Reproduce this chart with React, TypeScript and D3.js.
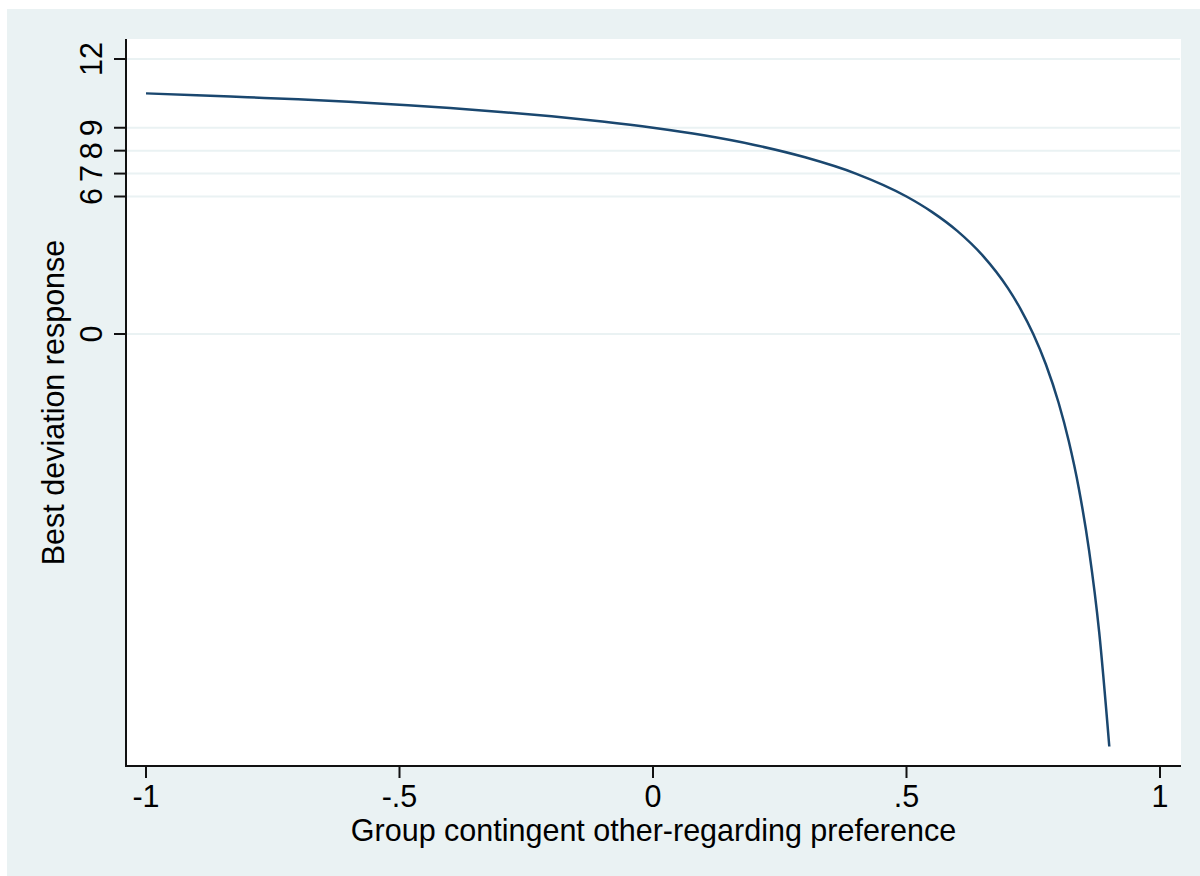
import React from "react";
import * as d3 from "d3";

const xValues = [-1, -0.9, -0.8, -0.7, -0.6, -0.5, -0.4, -0.3, -0.2, -0.1, 0, 0.1, 0.2, 0.3, 0.4, 0.5, 0.55, 0.6, 0.65, 0.7, 0.725, 0.75, 0.775, 0.8, 0.82, 0.84, 0.86, 0.88, 0.9];
const yValues = [10.5, 10.42, 10.33, 10.24, 10.13, 10.0, 9.86, 9.69, 9.5, 9.27, 9.0, 8.67, 8.25, 7.71, 7.0, 6.0, 5.33, 4.5, 3.43, 2.0, 1.09, 0.0, -1.33, -3.0, -4.67, -6.75, -9.43, -13.0, -18.0];

const xTicks = [-1, -0.5, 0, 0.5, 1];
const xTickLabels = ["-1", "-.5", "0", ".5", "1"];
const yTicks = [0, 6, 7, 8, 9, 12];
const yTickLabels = ["0", "6", "7", "8", "9", "12"];

const xTitle = "Group contingent other-regarding preference";
const yTitle = "Best deviation response";

export default function App() {
  const W = 1200;
  const H = 876;
  const plot = { left: 126, top: 39, right: 1181, bottom: 766 };
  const x = d3.scaleLinear().domain([-1, 1]).range([146, 1160]);
  const y = d3.scaleLinear().domain([0, 12]).range([334, 59]);
  const pts: [number, number][] = xValues.map((v, i) => [v, yValues[i]]);
  const line = d3
    .line<[number, number]>()
    .x((d) => x(d[0]))
    .y((d) => y(d[1]))
    .curve(d3.curveMonotoneX);
  const font = "'Liberation Sans', Arial, Helvetica, sans-serif";
  const fs = 30.5;
  return (
    <div style={{ position: "absolute", left: 0, top: 0 }}>
      <svg width={W} height={H} style={{ display: "block" }} fontFamily={font}>
        <rect x={0} y={0} width={W} height={H} fill="#ffffff" />
        <rect x={7} y={9} width={W - 7} height={H - 9} fill="#EAF2F3" />
        <rect
          x={plot.left}
          y={plot.top}
          width={plot.right - plot.left}
          height={plot.bottom - plot.top}
          fill="#ffffff"
        />
        {yTicks.map((t) => (
          <line
            key={"g" + t}
            x1={plot.left}
            x2={plot.right - 1}
            y1={y(t)}
            y2={y(t)}
            stroke="#EAF2F3"
            strokeWidth={2}
          />
        ))}
        <path d={line(pts) || ""} fill="none" stroke="#1a476f" strokeWidth={2.5} />
        <line x1={plot.left} x2={plot.left} y1={plot.top} y2={plot.bottom + 1} stroke="#111" strokeWidth={2} />
        <line x1={plot.left} x2={plot.right} y1={plot.bottom} y2={plot.bottom} stroke="#111" strokeWidth={2} />
        {yTicks.map((t, i) => (
          <g key={"yt" + t}>
            <line x1={114} x2={plot.left} y1={y(t)} y2={y(t)} stroke="#111" strokeWidth={2} />
            <text
              transform={`translate(102,${y(t)}) rotate(-90)`}
              textAnchor="middle"
              fontSize={fs}
              fill="#000"
            >
              {yTickLabels[i]}
            </text>
          </g>
        ))}
        {xTicks.map((t, i) => (
          <g key={"xt" + t}>
            <line x1={x(t)} x2={x(t)} y1={plot.bottom} y2={778} stroke="#111" strokeWidth={2} />
            <text x={x(t)} y={807} textAnchor="middle" fontSize={fs} fill="#000">
              {xTickLabels[i]}
            </text>
          </g>
        ))}
        <text x={(plot.left + plot.right) / 2} y={841} textAnchor="middle" fontSize={fs} fill="#000">
          {xTitle}
        </text>
        <text
          transform={`translate(64,${(plot.top + plot.bottom) / 2}) rotate(-90)`}
          textAnchor="middle"
          fontSize={fs}
          fill="#000"
        >
          {yTitle}
        </text>
      </svg>
    </div>
  );
}
